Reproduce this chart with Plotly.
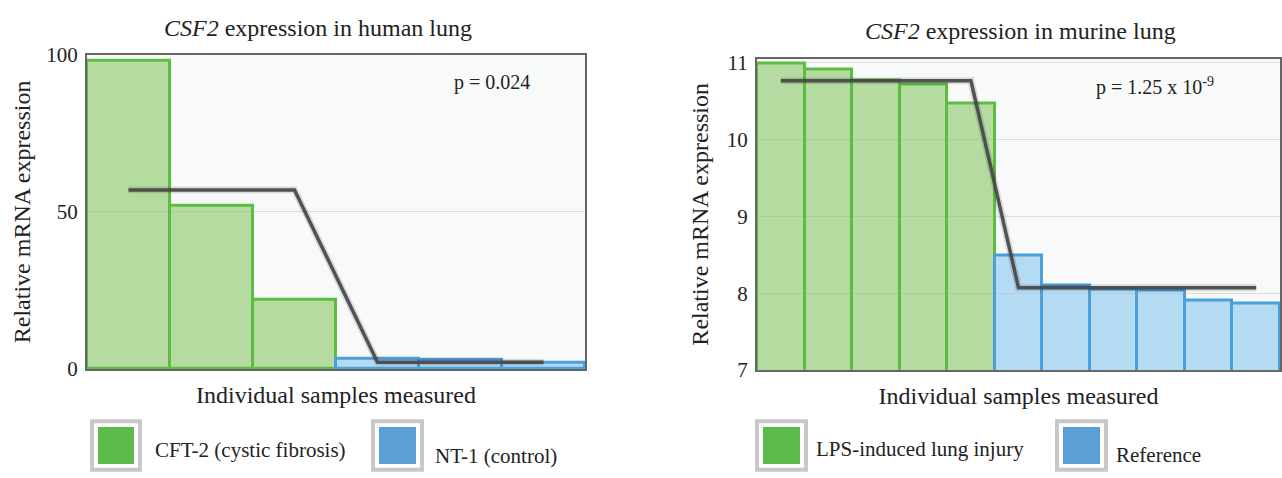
import plotly.graph_objects as go

W, H = 1282, 478

# ---------------- data ----------------
human_samples = [1, 2, 3, 4, 5, 6]
human_group = ["CFT-2", "CFT-2", "CFT-2", "NT-1", "NT-1", "NT-1"]
human_values = [98, 52, 22, 3.2, 3.0, 2.0]
human_mean_x = [1, 3, 4, 6]
human_mean_y = [57, 57, 2.2, 2.2]
human_yticks = [0, 50, 100]

murine_samples = list(range(1, 12))
murine_group = ["LPS"] * 5 + ["Ref"] * 6
murine_values = [10.98, 10.91, 10.76, 10.71, 10.46, 8.49, 8.10, 8.05, 8.04, 7.91, 7.87]
murine_mean_x = [1, 5, 6, 11]
murine_mean_y = [10.76, 10.76, 8.07, 8.07]
murine_yticks = [7, 8, 9, 10, 11]

legend_left = ["CFT-2 (cystic fibrosis)", "NT-1 (control)"]
legend_right = ["LPS-induced lung injury", "Reference"]

# ---------------- styles ----------------
FONT = "Liberation Serif"
G_FILL = "rgba(140,200,105,0.62)"
G_LINE = "#5cbd42"
B_FILL = "rgba(140,200,238,0.62)"
B_LINE = "#4a9fdd"
LEG_G = "#5bba48"
LEG_B = "#5b9fd6"


def px(x):
    return x / W


def py(y):
    return (H - y) / H


fig = go.Figure()


def add_panel(xs, groups, vals, mx, my, xa, ya, gkey):
    fills = [G_FILL if g == gkey else B_FILL for g in groups]
    lines = [G_LINE if g == gkey else B_LINE for g in groups]
    fig.add_trace(go.Bar(x=xs, y=vals, width=1, marker=dict(color=fills, line=dict(color=lines, width=3)),
                         xaxis=xa, yaxis=ya, showlegend=False, hoverinfo="skip"))
    fig.add_trace(go.Scatter(x=mx, y=my, mode="lines", line=dict(color="rgba(0,0,0,0.12)", width=7),
                             xaxis=xa, yaxis=ya, showlegend=False, hoverinfo="skip"))
    fig.add_trace(go.Scatter(x=mx, y=my, mode="lines", line=dict(color="rgba(70,70,70,0.92)", width=3.5),
                             xaxis=xa, yaxis=ya, showlegend=False, hoverinfo="skip"))


add_panel(human_samples, human_group, human_values, human_mean_x, human_mean_y, "x", "y", "CFT-2")
add_panel(murine_samples, murine_group, murine_values, murine_mean_x, murine_mean_y, "x2", "y2", "LPS")

axis_common = dict(showline=True, mirror=True, linecolor="#666666", linewidth=2, ticks="",
                   tickfont=dict(family=FONT, size=21, color="#222"), zeroline=False)
TITLE_FONT = dict(family=FONT, size=24, color="#222")

fig.update_layout(
    width=W, height=H, margin=dict(l=0, r=0, t=0, b=0),
    paper_bgcolor="white", plot_bgcolor="#f8fafa",
    bargap=0, barmode="overlay",
    font=dict(family=FONT, color="#222"),
    xaxis=dict(domain=[px(87), px(585)], range=[0.5, 6.5], showticklabels=False, showgrid=False,
               **axis_common, title=dict(text="Individual samples measured", font=TITLE_FONT, standoff=16)),
    yaxis=dict(domain=[py(376), py(45)], range=[0, 100], tickvals=human_yticks, showgrid=True,
               gridcolor="#dcdcdc", gridwidth=1, ticklabelstandoff=3, **axis_common,
               title=dict(text="Relative mRNA expression", font=TITLE_FONT, standoff=9)),
    xaxis2=dict(domain=[px(757), px(1280)], range=[0.5, 11.5], showticklabels=False, showgrid=False,
                anchor="y2", **axis_common,
                title=dict(text="Individual samples measured", font=TITLE_FONT, standoff=16)),
    yaxis2=dict(domain=[py(377), py(49)], range=[7, 11.05], tickvals=murine_yticks, showgrid=True,
                gridcolor="#dcdcdc", gridwidth=1, anchor="x2", ticklabelstandoff=3, **axis_common,
                title=dict(text="Relative mRNA expression", font=TITLE_FONT, standoff=11)),
)

annotations = [
    dict(text="<i>CSF2</i> expression in human lung", x=px(318), y=py(17), xref="paper", yref="paper",
         showarrow=False, font=TITLE_FONT, xanchor="center", yanchor="middle"),
    dict(text="<i>CSF2</i> expression in murine lung", x=px(1020), y=py(20), xref="paper", yref="paper",
         showarrow=False, font=TITLE_FONT, xanchor="center", yanchor="middle"),
    dict(text="p = 0.024", x=px(492), y=py(74), xref="paper", yref="paper",
         showarrow=False, font=dict(family=FONT, size=20, color="#222"), xanchor="center", yanchor="middle"),
    dict(text="p = 1.25 x 10<sup>-9</sup>", x=px(1155), y=py(78), xref="paper", yref="paper",
         showarrow=False, font=dict(family=FONT, size=20, color="#222"), xanchor="center", yanchor="middle"),
]

shapes = []
legend_items = [
    (92, 140, LEG_G, legend_left[0], 153, 461),
    (373, 422, LEG_B, legend_left[1], 433, 467),
    (757, 806, LEG_G, legend_right[0], 814, 460),
    (1057, 1106, LEG_B, legend_right[1], 1114, 466),
]
for x0, x1, col, label, tx, ty in legend_items:
    shapes.append(dict(type="rect", xref="paper", yref="paper", x0=px(x0), x1=px(x1), y0=py(482), y1=py(431),
                       fillcolor="#ffffff", line=dict(color="#c8c8c8", width=4), layer="above"))
    shapes.append(dict(type="rect", xref="paper", yref="paper", x0=px(x0 + 6), x1=px(x1 - 6), y0=py(476), y1=py(437),
                       fillcolor=col, line=dict(width=0), layer="above"))
    annotations.append(dict(text=label, x=px(tx), y=py(ty), xref="paper", yref="paper", showarrow=False,
                            font=dict(family=FONT, size=21, color="#222"), xanchor="left", yanchor="middle"))

fig.update_layout(annotations=annotations, shapes=shapes)

fig.write_html("out.html")
